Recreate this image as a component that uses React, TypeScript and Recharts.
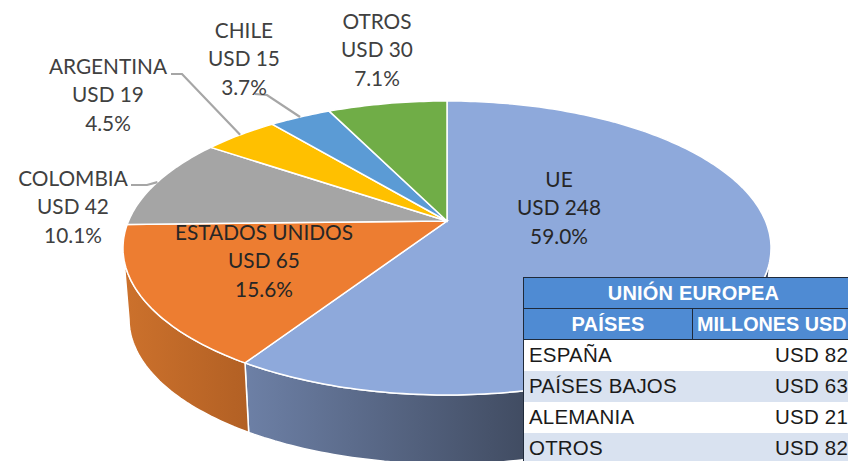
import { Pie, PieChart } from 'recharts'

const countries = ['UE', 'ESTADOS UNIDOS', 'COLOMBIA', 'ARGENTINA', 'CHILE', 'OTROS']
const amounts = [248, 65, 42, 19, 15, 30]
const shares = [59.0, 15.6, 10.1, 4.5, 3.7, 7.1]
const sliceColors = ['#8EA9DB', '#ED7D31', '#A5A5A5', '#FFC000', '#5B9BD5', '#70AD47']
const wallFills = ['url(#wallBlue)', 'url(#wallOrange)', '#7C7C7C', '#BF9000', '#44749F', '#548235']

const tableTitle = 'UNIÓN EUROPEA'
const tableHeaders = ['PAÍSES', 'MILLONES USD']
const euCountries = ['ESPAÑA', 'PAÍSES BAJOS', 'ALEMANIA', 'OTROS']
const euAmounts = [82, 63, 21, 82]

const pieData = countries.map((name, i) => ({ name, amount: amounts[i], share: shares[i] }))

// rim of the tilted pie, top face and bottom edge of the wall
const TOP = { cx: 447, cy: 248, rx: 324, ry: 147 }
const BOTTOM = { cx: 447, cy: 319, rx: 318, ry: 145 }
const TILT = -0.184 // perspective: moves the apex up from the ellipse centre
const WALL_FROM = 100.6
const WALL_TO = 259.4

type Rim = typeof TOP

function project(deg: number, rim: Rim): [number, number] {
  const t = (deg * Math.PI) / 180
  const x = Math.sin(t)
  const y = -Math.cos(t)
  const d = 1 + TILT * y
  return [rim.cx + (rim.rx * x * Math.sqrt(1 - TILT * TILT)) / d, rim.cy + (rim.ry * (y + TILT)) / d]
}

function rimPoints(from: number, to: number, rim: Rim) {
  const pts: [number, number][] = []
  const n = Math.max(2, Math.ceil(Math.abs(to - from)))
  for (let i = 0; i <= n; i++) pts.push(project(from + ((to - from) * i) / n, rim))
  return pts
}

function toPath(pts: [number, number][]) {
  return 'M' + pts.map((p) => `${p[0].toFixed(1)},${p[1].toFixed(1)}`).join('L') + 'Z'
}

function Slice(props: any) {
  // recharts angles run counter-clockwise from 3 o'clock
  const from = 90 - props.startAngle
  const to = 90 - props.endAngle
  const apex: [number, number] = [TOP.cx, TOP.cy + TOP.ry * TILT]
  const wallStart = Math.max(from, WALL_FROM)
  const wallEnd = Math.min(to, WALL_TO)
  const i = countries.indexOf(props.name)
  return (
    <g>
      {wallEnd > wallStart && (
        <path
          d={toPath([...rimPoints(wallStart, wallEnd, TOP), ...rimPoints(wallEnd, wallStart, BOTTOM)])}
          fill={wallFills[i]}
          stroke="#fff"
          strokeWidth={1.5}
        />
      )}
      <path d={toPath([apex, ...rimPoints(from, to, TOP)])} fill={props.fill} stroke="#fff" strokeWidth={1.5} />
    </g>
  )
}

// text centre (x, first line y) and leader elbow for each label
const labelSpots = [
  { x: 559, y: 178 },
  { x: 264, y: 231 },
  { x: 73, y: 177, line: [131, 185, 147, 185] },
  { x: 108, y: 65, line: [171, 74, 182, 74] },
  { x: 244, y: 29, line: [255, 94, 267, 95] },
  { x: 377, y: 20 },
]
const LINE_GAP = 28.7

function SliceLabel(props: any) {
  const i = props.index
  const spot = labelSpots[i]
  const before = shares.slice(0, i).reduce((a, b) => a + b, 0)
  const mid = ((before + shares[i] / 2) / 100) * 360
  const end = project(mid, TOP)
  const dark = i < 2
  const lines = [countries[i], `USD ${amounts[i]}`, `${shares[i].toFixed(1)}%`]
  return (
    <g>
      {spot.line && (
        <polyline
          points={`${spot.line[0]},${spot.line[1]} ${spot.line[2]},${spot.line[3]} ${end[0]},${end[1]}`}
          fill="none"
          stroke="#A6A6A6"
          strokeWidth={2.2}
        />
      )}
      {lines.map((t, k) => (
        <text
          key={k}
          x={spot.x}
          y={spot.y + k * LINE_GAP}
          textAnchor="middle"
          dominantBaseline="central"
          fontFamily="Lato, sans-serif"
          fontSize={20.8}
          fill={dark ? '#262626' : '#404040'}
        >
          {t}
        </text>
      ))}
    </g>
  )
}

const cellBase = {
  boxSizing: 'border-box' as const,
  height: 31,
  lineHeight: '30px',
  fontFamily: '"Liberation Sans", Arial, sans-serif',
  fontSize: 20.5,
  letterSpacing: 0.2,
  whiteSpace: 'nowrap' as const,
}
const headerCell = {
  ...cellBase,
  background: '#4F8BD3',
  color: '#fff',
  fontSize: 20,
  fontWeight: 700,
  textAlign: 'center' as const,
  border: '1px solid #1F2A3A',
}

function EuTable() {
  return (
    <div style={{ position: 'absolute', left: 523, top: 277, width: 340, borderLeft: '1px solid #1F2A3A' }}>
      <div style={{ ...headerCell, borderLeft: 0, height: 32 }}>
        <span style={{ display: 'inline-block', width: 325, textAlign: 'center' }}>{tableTitle}</span>
      </div>
      <div style={{ display: 'flex' }}>
        <div style={{ ...headerCell, borderLeft: 0, borderTop: 0, width: 169 }}>{tableHeaders[0]}</div>
        <div
          style={{
            ...headerCell,
            borderLeft: 0,
            borderTop: 0,
            width: 171,
            textAlign: 'left',
            paddingLeft: 4,
            letterSpacing: 0,
            fontSize: 19.8,
          }}
        >
          {tableHeaders[1]}
        </div>
      </div>
      {euCountries.map((name, i) => (
        <div
          key={name}
          style={{
            ...cellBase,
            display: 'flex',
            justifyContent: 'space-between',
            background: i % 2 ? '#D9E2F0' : '#fff',
            color: '#1A1A1A',
            paddingLeft: 5,
            width: 324,
          }}
        >
          <span>{name}</span>
          <span>USD {euAmounts[i]}</span>
        </div>
      ))}
    </div>
  )
}

export default function App() {
  return (
    <div style={{ position: 'absolute', left: 0, top: 0, width: 848, height: 461, overflow: 'hidden', background: '#fff' }}>
      <PieChart width={848} height={461} margin={{ top: 0, right: 0, bottom: 0, left: 0 }}>
        <defs>
          <linearGradient id="wallBlue" gradientUnits="userSpaceOnUse" x1={245} y1={0} x2={525} y2={0}>
            <stop offset="0" stopColor="#6D80A6" />
            <stop offset="1" stopColor="#414C62" />
          </linearGradient>
          <linearGradient id="wallOrange" gradientUnits="userSpaceOnUse" x1={125} y1={0} x2={248} y2={0}>
            <stop offset="0" stopColor="#CC712C" />
            <stop offset="1" stopColor="#B26024" />
          </linearGradient>
        </defs>
        <Pie
          data={pieData.map((d, i) => ({ ...d, fill: sliceColors[i] }))}
          dataKey="share"
          nameKey="name"
          cx={TOP.cx}
          cy={TOP.cy}
          outerRadius={TOP.ry}
          startAngle={90}
          endAngle={-270}
          paddingAngle={0}
          stroke="none"
          shape={Slice}
          label={SliceLabel}
          labelLine={false}
          isAnimationActive={false}
        />
      </PieChart>
      <EuTable />
    </div>
  )
}
